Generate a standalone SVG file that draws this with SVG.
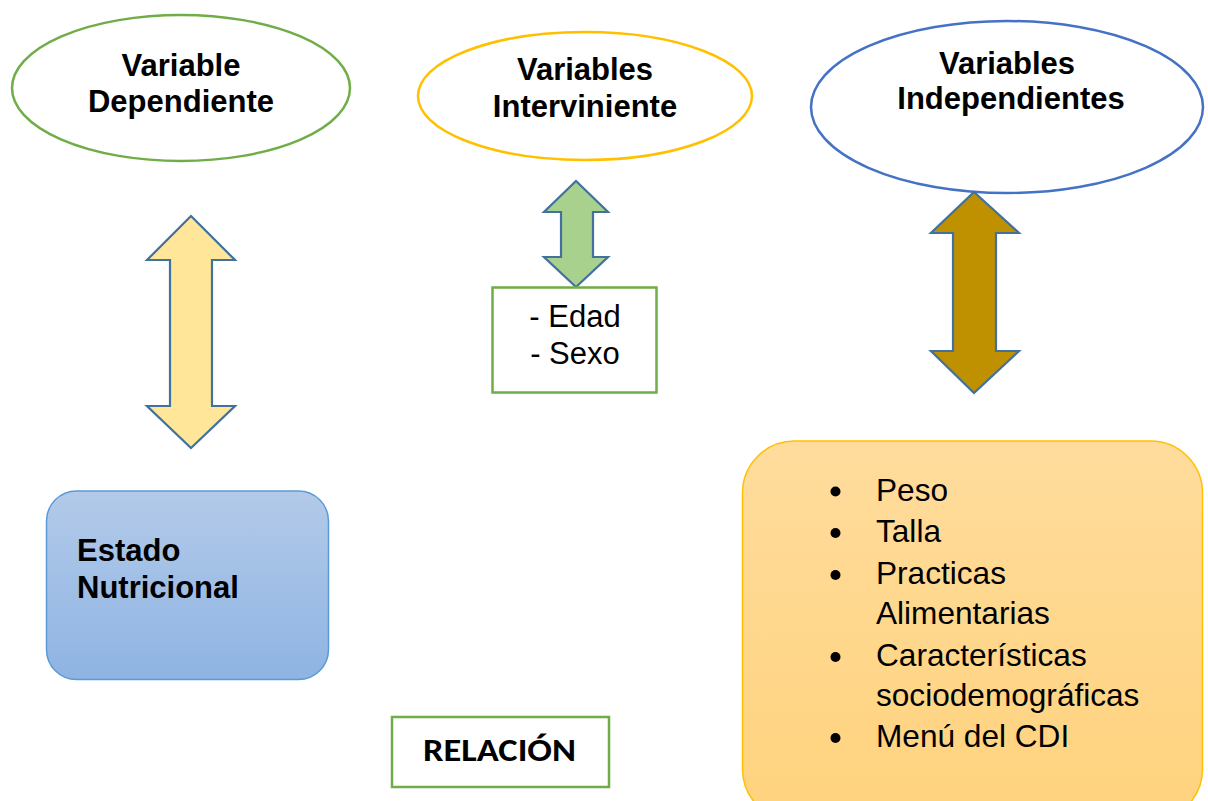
<svg xmlns="http://www.w3.org/2000/svg" width="1208" height="801" viewBox="0 0 1208 801">
  <defs>
    <linearGradient id="gBlue" x1="0" y1="0" x2="0" y2="1">
      <stop offset="0" stop-color="#B3CAE9"/>
      <stop offset="1" stop-color="#8EB4E3"/>
    </linearGradient>
    <linearGradient id="gOrange" x1="0" y1="0" x2="0" y2="1">
      <stop offset="0" stop-color="#FFDC9D"/>
      <stop offset="1" stop-color="#FFD37D"/>
    </linearGradient>
    <style>
      .t { font-family: "Liberation Sans", Arial, sans-serif; fill: #000; }
      .b { font-weight: bold; font-size: 31px; }
      .r { font-size: 31px; }
      .l { font-size: 31.6px; }
      .mid { text-anchor: middle; }
      .arrow { stroke: #41719C; stroke-width: 2.2; stroke-linejoin: miter; }
      .ell { fill: #fff; stroke-width: 2.5; }
    </style>
  </defs>
  <rect width="1208" height="801" fill="#fff"/>

  <g id="var-dependiente">
    <ellipse class="ell" cx="181" cy="88" rx="169" ry="73" stroke="#70AD47"/>
    <text class="t b mid" x="181" y="76">Variable</text>
    <text class="t b mid" x="181" y="112">Dependiente</text>
  </g>

  <g id="var-interviniente">
    <ellipse class="ell" cx="585" cy="96" rx="167" ry="64" stroke="#FFC000"/>
    <text class="t b mid" x="585" y="80">Variables</text>
    <text class="t b mid" x="585" y="117">Interviniente</text>
  </g>

  <g id="var-independientes">
    <ellipse class="ell" cx="1007" cy="107" rx="196" ry="86" stroke="#4472C4"/>
    <text class="t b mid" x="1007" y="74">Variables</text>
    <text class="t b mid" x="1011" y="109">Independientes</text>
  </g>

  <g id="connectors">
    <polygon class="arrow" fill="#FFE699" points="191,216 235,260 212,260 212,406 235,406 191,448 147,406 170,406 170,260 147,260"/>
    <polygon class="arrow" fill="#A9D18E" points="576,181 608,212 593,212 593,257 608,257 576,287 544,257 561,257 561,212 544,212"/>
    <polygon class="arrow" fill="#BF9000" points="974,192 1019,233 996,233 996,351 1019,351 974,393 931,351 953,351 953,233 931,233"/>
  </g>

  <g id="edad-sexo">
    <rect x="492.5" y="287.5" width="164" height="105" fill="#fff" stroke="#70AD47" stroke-width="2.5"/>
    <text class="t r mid" x="575" y="327">- Edad</text>
    <text class="t r mid" x="575" y="364">- Sexo</text>
  </g>

  <g id="estado-nutricional">
    <rect x="46.5" y="491" width="282" height="188.5" rx="30" ry="30" fill="url(#gBlue)" stroke="#5B9BD5" stroke-width="1.5"/>
    <text class="t b" x="77" y="561">Estado</text>
    <text class="t b" x="77" y="598">Nutricional</text>
  </g>

  <g id="independientes-lista">
    <rect x="742.5" y="441" width="460" height="380" rx="52" ry="52" fill="url(#gOrange)" stroke="#FFC000" stroke-width="1.5"/>
    <g fill="#000">
      <circle cx="835.5" cy="491.5" r="5"/>
      <circle cx="835.5" cy="533" r="5"/>
      <circle cx="835.5" cy="575" r="5"/>
      <circle cx="835.5" cy="657" r="5"/>
      <circle cx="835.5" cy="738" r="5"/>
    </g>
    <text class="t l" x="876" y="501">Peso</text>
    <text class="t l" x="876" y="542">Talla</text>
    <text class="t l" x="876" y="584">Practicas</text>
    <text class="t l" x="876" y="624">Alimentarias</text>
    <text class="t l" x="876" y="666">Características</text>
    <text class="t l" x="876" y="706">sociodemográficas</text>
    <text class="t l" x="876" y="747">Menú del CDI</text>
  </g>

  <g id="relacion">
    <rect x="392" y="717" width="217" height="70" fill="#fff" stroke="#70AD47" stroke-width="2.5"/>
    <text x="423" y="761" font-family="Carlito, Lato, 'Open Sans', sans-serif" font-weight="bold" font-size="32" textLength="153" lengthAdjust="spacingAndGlyphs">RELACIÓN</text>
  </g>
</svg>
